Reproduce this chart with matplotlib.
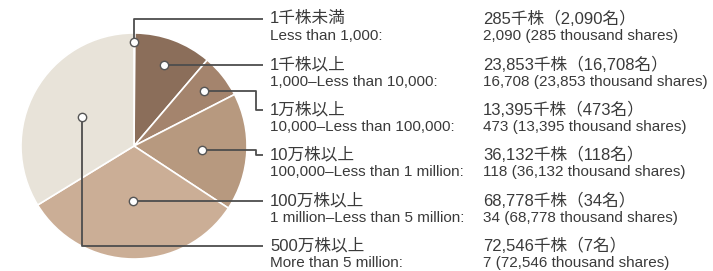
import matplotlib
matplotlib.use("Agg")
import matplotlib.pyplot as plt
import numpy as np

# Data
shares_thousand = [285, 23853, 13395, 36132, 68778, 72546]
holders = [2090, 16708, 473, 118, 34, 7]
labels_jp = ["1千株未満", "1千株以上", "1万株以上", "10万株以上", "100万株以上", "500万株以上"]
labels_en = ["Less than 1,000:", "1,000–Less than 10,000:", "10,000–Less than 100,000:",
             "100,000–Less than 1 million:", "1 million–Less than 5 million:", "More than 5 million:"]
values_jp = ["285千株（2,090名）", "23,853千株（16,708名）", "13,395千株（473名）",
             "36,132千株（118名）", "68,778千株（34名）", "72,546千株（7名）"]
values_en = ["2,090 (285 thousand shares)", "16,708 (23,853 thousand shares)",
             "473 (13,395 thousand shares)", "118 (36,132 thousand shares)",
             "34 (68,778 thousand shares)", "7 (72,546 thousand shares)"]

colors = ["#8b6e5a", "#8b6e5a", "#a4846d", "#b7997f", "#cbae96", "#e8e3d9"]

W, H = 713, 271
fig = plt.figure(figsize=(W / 100, H / 100), dpi=100)
ax = fig.add_axes([0, 0, 1, 1])

cx, cy, R = 134, H - 146, 113
wedges, _ = ax.pie(shares_thousand, colors=colors, startangle=90, counterclock=False,
                   center=(cx, cy), radius=R,
                   wedgeprops=dict(edgecolor="white", linewidth=1.2))
ax.set_xlim(0, W)
ax.set_ylim(0, H)
ax.set_aspect("equal")
ax.axis("off")

# leader layout
dot_r = [0.92, 0.77, 0.79, 0.60, 0.48, 0.53]
row_jp = [19, 65, 110, 155, 201, 246]
line_end_x = 263
elbow_x = 256
lc = "#4d4d4d"

for i, w in enumerate(wedges):
    mid = np.deg2rad((w.theta1 + w.theta2) / 2)
    dx = cx + dot_r[i] * R * np.cos(mid)
    dy = cy + dot_r[i] * R * np.sin(mid)
    ty = H - row_jp[i]
    if i in (0, 5):
        xs, ys = [dx, dx, line_end_x], [dy, ty, ty]
    elif i in (2, 3):
        xs, ys = [dx, elbow_x, elbow_x, line_end_x], [dy, dy, ty, ty]
    else:
        dy = ty
        xs, ys = [dx, line_end_x], [ty, ty]
    ax.plot(xs, ys, color=lc, lw=1.3, solid_capstyle="butt", zorder=3)
    ax.plot([dx], [dy], marker="o", ms=6, mfc="white", mec="#555555", mew=1.0, zorder=4)

jp_font = ["Liberation Sans", "Noto Sans CJK JP", "DejaVu Sans"]
en_font = ["Liberation Sans", "DejaVu Sans"]
for i in range(len(labels_jp)):
    ty = H - row_jp[i]
    ax.text(270, ty, labels_jp[i], family=jp_font, fontsize=12, color="#3a3a3a",
            va="center", ha="left")
    ax.text(270, ty - 17, labels_en[i], family=en_font, fontsize=11, color="#3a3a3a",
            va="center", ha="left")
    ax.text(483, ty, values_jp[i], family=jp_font, fontsize=12, color="#3a3a3a",
            va="center", ha="left")
    ax.text(483, ty - 17, values_en[i], family=en_font, fontsize=11, color="#3a3a3a",
            va="center", ha="left")

fig.savefig("out.png", dpi=100)
